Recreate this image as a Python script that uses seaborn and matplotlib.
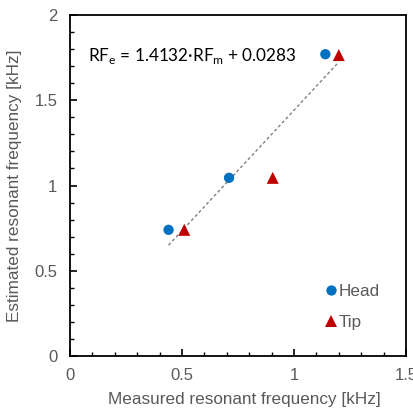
import numpy as np
import pandas as pd
import matplotlib
matplotlib.use("Agg")
import matplotlib.pyplot as plt
from matplotlib.ticker import MultipleLocator, FuncFormatter
import seaborn as sns

# Data
head_measured = [0.44, 0.71, 1.14]
head_estimated = [0.74, 1.045, 1.77]
tip_measured = [0.51, 0.905, 1.20]
tip_estimated = [0.74, 1.045, 1.765]
fit_slope = 1.4132
fit_intercept = 0.0283
series_names = ["Head", "Tip"]

sns.set_theme(style="white")
plt.rcParams['font.family'] = ['Liberation Sans', 'DejaVu Sans']

df = pd.DataFrame({
    "measured": head_measured + tip_measured,
    "estimated": head_estimated + tip_estimated,
    "series": [series_names[0]] * len(head_measured) + [series_names[1]] * len(tip_measured),
})

fig = plt.figure(figsize=(4.14, 4.17), dpi=100)
ax = fig.add_axes([70 / 414, 1 - 356 / 417, 336 / 414, 341 / 417])

# trend line over range of measured values
all_x = np.array(head_measured + tip_measured)
xs = np.array([all_x.min(), all_x.max()])
ax.plot(xs, fit_slope * xs + fit_intercept, ls=(0, (2.2, 1.8)), color="#7f7f7f", lw=1.0, zorder=1)

sns.scatterplot(data=df, x="measured", y="estimated", hue="series", style="series", size="series",
                palette={"Head": "#0070C0", "Tip": "#C00000"},
                markers={"Head": "o", "Tip": "^"}, sizes={"Head": 55, "Tip": 75}, linewidth=0,
                ax=ax, zorder=3, legend=True)

ax.set_xlim(0, 1.5)
ax.set_ylim(0, 2)
ax.xaxis.set_major_locator(MultipleLocator(0.5))
ax.xaxis.set_minor_locator(MultipleLocator(0.1))
ax.yaxis.set_major_locator(MultipleLocator(0.5))
ax.yaxis.set_minor_locator(MultipleLocator(0.1))
fmt = FuncFormatter(lambda v, p: ("%g" % v))
ax.xaxis.set_major_formatter(fmt)
ax.yaxis.set_major_formatter(fmt)
ax.tick_params(which="both", direction="in", bottom=True, left=True, top=False, right=False,
               colors="black", labelcolor="#595959", labelsize=12)
ax.tick_params(which="major", length=5, width=1.2, pad=9)
ax.tick_params(which="minor", length=3, width=1.0)
for sp in ax.spines.values():
    sp.set_color("black")
    sp.set_linewidth(1.3)

ax.set_xlabel("Measured resonant frequency [kHz]", fontsize=12.3, color="#595959")
ax.xaxis.set_label_coords(0.52, -0.105)
ax.set_ylabel("Estimated resonant frequency [kHz]", fontsize=12.3, color="#595959", labelpad=9)

ax.text(0.08, 1.73, r"RF$_\mathregular{e}$ = 1.4132·RF$_\mathregular{m}$ + 0.0283",
        fontsize=12.3, color="black", family=["Lato", "DejaVu Sans"])

leg = ax.legend(loc="lower left", bbox_to_anchor=(0.745, 0.075), frameon=False,
                handletextpad=-0.1, handlelength=1.2, labelspacing=0.95, fontsize=12.3,
                borderaxespad=0.0, borderpad=0.0)
for t in leg.get_texts():
    t.set_color("#595959")

fig.savefig("out.png", dpi=100)
